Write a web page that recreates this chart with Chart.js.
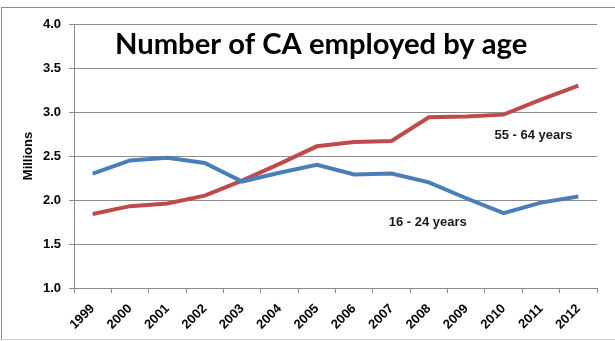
<!DOCTYPE html>
<html>
<head>
<meta charset="utf-8">
<script src="https://cdn.jsdelivr.net/npm/chart.js@4.4.0/dist/chart.umd.min.js"></script>
<style>
  html, body { margin: 0; padding: 0; background: #fff; }
  #wrap { position: relative; width: 615px; height: 341px; overflow: hidden; }
  #frame {
    position: absolute; left: 1px; top: 7px; width: 700px; height: 331px;
    border-top: 1px solid #8c8c8c; border-left: 1px solid #8c8c8c; border-bottom: 1px solid #d0d0d0;
  }
  canvas { position: absolute; left: 0; top: 0; }
</style>
</head>
<body>
<div id="wrap">
  <div id="frame"></div>
  <canvas id="chart" width="615" height="341"></canvas>
</div>
<script>
// Employment in CA by age group, millions
const years = ["1999", "2000", "2001", "2002", "2003", "2004", "2005", "2006", "2007", "2008", "2009", "2010", "2011", "2012"];
const young = [2.30, 2.45, 2.48, 2.42, 2.21, 2.31, 2.40, 2.29, 2.30, 2.20, 2.02, 1.85, 1.97, 2.04];
const older = [1.84, 1.93, 1.96, 2.05, 2.22, 2.41, 2.61, 2.66, 2.67, 2.94, 2.95, 2.97, 3.14, 3.30];
const yTicks = [1.0, 1.5, 2.0, 2.5, 3.0, 3.5, 4.0];

const titleText = "Number of CA employed by age";

// labels that sit next to each line, in data coordinates
const seriesLabels = [
    { text: "55 - 64 years", at: 11.8, value: 2.73 },
    { text: "16 - 24 years", at: 8.97, value: 1.75 }
];

const tickFont = { family: "'Liberation Sans', Arial, sans-serif", size: 13, weight: "bold" };

const labelPlugin = {
    id: "chartLabels",
    afterDatasetsDraw(chart) {
        const ctx = chart.ctx;
        const area = chart.chartArea;
        const x = chart.scales.x;
        const y = chart.scales.y;
        ctx.save();
        // big title inside the plot, squeezed to the wanted width
        ctx.fillStyle = "#000";
        ctx.font = "bold 28px Lato, 'Open Sans', sans-serif";
        const w = ctx.measureText(titleText).width;
        const size = Math.round(28 * 413 / w * 10) / 10;
        ctx.font = "bold " + size + "px Lato, 'Open Sans', sans-serif";
        ctx.textAlign = "left";
        ctx.textBaseline = "alphabetic";
        ctx.fillText(titleText, area.left + 41, area.top + 30);
        // series names
        ctx.font = "bold 13px 'Liberation Sans', Arial, sans-serif";
        ctx.textAlign = "center";
        ctx.textBaseline = "middle";
        ctx.fillStyle = "#1a1a1a";
        seriesLabels.forEach(l => {
            const px = x.left + (l.at + 0.5) * (x.width / years.length);
            ctx.fillText(l.text, px, y.getPixelForValue(l.value));
        });
        ctx.restore();
    }
};

const ctx = document.getElementById("chart").getContext("2d");
new Chart(ctx, {
    type: "line",
    data: {
        labels: years,
        datasets: [
            {
                label: "16 - 24 years",
                data: young,
                borderColor: "#4a7ebb",
                borderWidth: 4,
                pointRadius: 0,
                tension: 0
            },
            {
                label: "55 - 64 years",
                data: older,
                borderColor: "#be4b48",
                borderWidth: 4,
                pointRadius: 0,
                tension: 0
            }
        ]
    },
    options: {
        responsive: false,
        animation: false,
        events: [],
        layout: { padding: { left: 21, top: 24, right: 18, bottom: 0 } },
        plugins: {
            legend: { display: false },
            tooltip: { enabled: false }
        },
        scales: {
            x: {
                offset: true,
                grid: {
                    offset: true,
                    drawOnChartArea: false,
                    drawTicks: true,
                    tickLength: 5,
                    color: "#8c8c8c"
                },
                border: { color: "#8c8c8c" },
                ticks: {
                    color: "#000",
                    font: tickFont,
                    minRotation: 45,
                    maxRotation: 45,
                    padding: 8
                },
                afterFit(scale) { scale.height = 53; }
            },
            y: {
                min: 1.0,
                max: 4.0,
                afterBuildTicks(scale) { scale.ticks = yTicks.map(v => ({ value: v })); },
                grid: {
                    color: "#8c8c8c",
                    tickLength: 5
                },
                border: { color: "#8c8c8c" },
                ticks: {
                    color: "#000",
                    font: tickFont,
                    padding: 8,
                    callback: v => v.toFixed(1)
                },
                title: {
                    display: true,
                    text: "Millions",
                    color: "#000",
                    font: tickFont,
                    padding: 0
                },
                afterFit(scale) { scale.width = 53; }
            }
        }
    },
    plugins: [labelPlugin]
});
</script>
</body>
</html>
